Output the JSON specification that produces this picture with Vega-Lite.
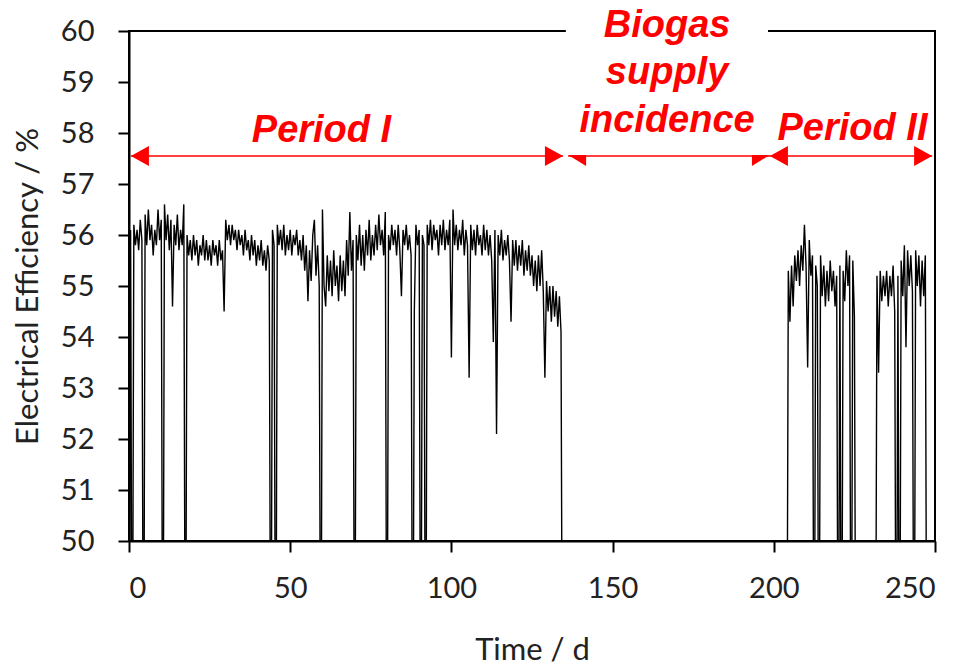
{
  "$schema": "https://vega.github.io/schema/vega-lite/v6.json",
  "width": 806,
  "height": 510,
  "autosize": {"type": "none"},
  "padding": {"left": 129, "top": 31, "right": 32, "bottom": 128},
  "background": "white",
  "config": {
    "view": {"stroke": "black", "strokeWidth": 2},
    "axis": {
      "grid": false,
      "domainColor": "black",
      "domainWidth": 2,
      "tickColor": "black",
      "tickWidth": 2,
      "tickSize": 11,
      "labelFont": "Lato",
      "labelFontSize": 29,
      "labelColor": "#222222",
      "titleFont": "Lato",
      "titleFontSize": 31,
      "titleFontWeight": "normal",
      "titleColor": "#222222"
    }
  },
  "datasets": {
    "eff": [
      {"t":0,"v":45},{"t":0.5,"v":56.1},{"t":1,"v":45},{"t":1.5,"v":56.2},{"t":2,"v":55.8},{"t":2.5,"v":56.1},{"t":3,"v":55.7},{"t":3.5,"v":56.3},{"t":4,"v":55.9},{"t":4.5,"v":45},
      {"t":5,"v":56.4},{"t":5.5,"v":55.8},{"t":6,"v":56.5},{"t":6.5,"v":55.9},{"t":7,"v":56.2},{"t":7.5,"v":55.6},{"t":8,"v":56.1},{"t":8.5,"v":55.8},{"t":9,"v":56.5},{"t":9.5,"v":55.9},
      {"t":10,"v":56.3},{"t":10.5,"v":45},{"t":11,"v":56.6},{"t":11.5,"v":55.9},{"t":12,"v":56.4},{"t":12.5,"v":55.7},{"t":13,"v":56.3},{"t":13.5,"v":54.6},{"t":14,"v":56.2},{"t":14.5,"v":55.8},
      {"t":15,"v":56.4},{"t":15.5,"v":55.7},{"t":16,"v":56.1},{"t":16.5,"v":55.8},{"t":17,"v":56.6},{"t":17.5,"v":45},{"t":18,"v":56.0},{"t":18.5,"v":55.6},{"t":19,"v":55.9},{"t":19.5,"v":55.5},
      {"t":20,"v":56.0},{"t":20.5,"v":55.6},{"t":21,"v":55.9},{"t":21.5,"v":55.4},{"t":22,"v":55.8},{"t":22.5,"v":55.6},{"t":23,"v":56.0},{"t":23.5,"v":55.5},{"t":24,"v":55.9},{"t":24.5,"v":55.5},
      {"t":25,"v":55.8},{"t":25.5,"v":55.4},{"t":26,"v":55.9},{"t":26.5,"v":55.6},{"t":27,"v":55.8},{"t":27.5,"v":55.4},{"t":28,"v":55.9},{"t":28.5,"v":55.5},{"t":29,"v":55.7},{"t":29.5,"v":54.5},
      {"t":30,"v":56.3},{"t":30.5,"v":55.9},{"t":31,"v":56.2},{"t":31.5,"v":55.8},{"t":32,"v":56.2},{"t":32.5,"v":55.9},{"t":33,"v":56.1},{"t":33.5,"v":55.7},{"t":34,"v":56.1},{"t":34.5,"v":55.8},
      {"t":35,"v":56.0},{"t":35.5,"v":55.6},{"t":36,"v":56.1},{"t":36.5,"v":55.7},{"t":37,"v":55.9},{"t":37.5,"v":55.5},{"t":38,"v":56.0},{"t":38.5,"v":55.6},{"t":39,"v":55.9},{"t":39.5,"v":55.4},
      {"t":40,"v":55.8},{"t":40.5,"v":55.5},{"t":41,"v":55.9},{"t":41.5,"v":55.4},{"t":42,"v":55.7},{"t":42.5,"v":55.3},{"t":43,"v":55.8},{"t":43.5,"v":55.5},{"t":44,"v":45},{"t":44.5,"v":56.1},
      {"t":45,"v":55.8},{"t":45.5,"v":45},{"t":46,"v":56.2},{"t":46.5,"v":55.8},{"t":47,"v":56.1},{"t":47.5,"v":55.7},{"t":48,"v":56.2},{"t":48.5,"v":55.6},{"t":49,"v":56.0},{"t":49.5,"v":55.7},
      {"t":50,"v":56.1},{"t":50.5,"v":55.6},{"t":51,"v":56.0},{"t":51.5,"v":55.8},{"t":52,"v":56.1},{"t":52.5,"v":55.6},{"t":53,"v":55.9},{"t":53.5,"v":55.5},{"t":54,"v":56.0},{"t":54.5,"v":55.3},
      {"t":55,"v":55.8},{"t":55.5,"v":54.7},{"t":56,"v":55.7},{"t":56.5,"v":55.1},{"t":57,"v":56.0},{"t":57.5,"v":56.3},{"t":58,"v":55.2},{"t":58.5,"v":55.8},{"t":59,"v":55.0},{"t":59.5,"v":45},
      {"t":60,"v":56.5},{"t":60.5,"v":55.0},{"t":61,"v":54.6},{"t":61.5,"v":55.6},{"t":62,"v":54.9},{"t":62.5,"v":55.5},{"t":63,"v":54.8},{"t":63.5,"v":55.7},{"t":64,"v":55.0},{"t":64.5,"v":55.4},
      {"t":65,"v":54.7},{"t":65.5,"v":55.6},{"t":66,"v":54.9},{"t":66.5,"v":55.5},{"t":67,"v":54.8},{"t":67.5,"v":55.9},{"t":68,"v":55.2},{"t":68.5,"v":56.45},{"t":69,"v":55.3},{"t":69.5,"v":55.9},
      {"t":70,"v":45},{"t":70.5,"v":56.0},{"t":71,"v":55.5},{"t":71.5,"v":56.2},{"t":72,"v":55.4},{"t":72.5,"v":56.0},{"t":73,"v":55.3},{"t":73.5,"v":56.1},{"t":74,"v":55.6},{"t":74.5,"v":56.3},
      {"t":75,"v":55.5},{"t":75.5,"v":56.0},{"t":76,"v":55.6},{"t":76.5,"v":56.2},{"t":77,"v":55.7},{"t":77.5,"v":56.4},{"t":78,"v":55.8},{"t":78.5,"v":56.1},{"t":79,"v":55.6},{"t":79.5,"v":56.45},
      {"t":80,"v":45},{"t":80.5,"v":56.0},{"t":81,"v":55.7},{"t":81.5,"v":56.2},{"t":82,"v":55.8},{"t":82.5,"v":56.1},{"t":83,"v":55.6},{"t":83.5,"v":56.2},{"t":84,"v":55.7},{"t":84.5,"v":54.8},
      {"t":85,"v":56.1},{"t":85.5,"v":55.8},{"t":86,"v":56.2},{"t":86.5,"v":55.7},{"t":87,"v":56.0},{"t":87.5,"v":55.6},{"t":88,"v":45},{"t":88.5,"v":54.5},{"t":89,"v":56.2},{"t":89.5,"v":55.8},
      {"t":90,"v":56.1},{"t":90.5,"v":45},{"t":91,"v":56.0},{"t":91.5,"v":55.8},{"t":92,"v":45},{"t":92.5,"v":56.2},{"t":93,"v":55.8},{"t":93.5,"v":56.3},{"t":94,"v":55.7},{"t":94.5,"v":56.2},
      {"t":95,"v":55.9},{"t":95.5,"v":56.1},{"t":96,"v":55.6},{"t":96.5,"v":56.2},{"t":97,"v":55.8},{"t":97.5,"v":56.3},{"t":98,"v":55.7},{"t":98.5,"v":56.1},{"t":99,"v":55.8},{"t":99.5,"v":56.3},
      {"t":100,"v":53.6},{"t":100.5,"v":56.5},{"t":101,"v":55.8},{"t":101.5,"v":56.2},{"t":102,"v":55.7},{"t":102.5,"v":56.1},{"t":103,"v":55.8},{"t":103.5,"v":56.3},{"t":104,"v":55.6},{"t":104.5,"v":56.1},
      {"t":105,"v":55.8},{"t":105.5,"v":53.2},{"t":106,"v":56.2},{"t":106.5,"v":55.7},{"t":107,"v":56.1},{"t":107.5,"v":55.6},{"t":108,"v":56.2},{"t":108.5,"v":55.8},{"t":109,"v":56.0},{"t":109.5,"v":55.6},
      {"t":110,"v":56.2},{"t":110.5,"v":55.7},{"t":111,"v":56.1},{"t":111.5,"v":55.6},{"t":112,"v":56.0},{"t":112.5,"v":55.5},{"t":113,"v":53.9},{"t":113.5,"v":56.1},{"t":114,"v":52.1},{"t":114.5,"v":56.0},
      {"t":115,"v":55.6},{"t":115.5,"v":56.1},{"t":116,"v":55.5},{"t":116.5,"v":55.9},{"t":117,"v":55.6},{"t":117.5,"v":56.0},{"t":118,"v":55.5},{"t":118.5,"v":54.3},{"t":119,"v":55.9},{"t":119.5,"v":55.4},
      {"t":120,"v":55.9},{"t":120.5,"v":55.3},{"t":121,"v":55.8},{"t":121.5,"v":55.4},{"t":122,"v":55.9},{"t":122.5,"v":55.2},{"t":123,"v":55.7},{"t":123.5,"v":55.3},{"t":124,"v":55.8},{"t":124.5,"v":55.2},
      {"t":125,"v":55.6},{"t":125.5,"v":55.0},{"t":126,"v":55.5},{"t":126.5,"v":54.9},{"t":127,"v":55.6},{"t":127.5,"v":55.0},{"t":128,"v":55.7},{"t":128.5,"v":54.9},{"t":129,"v":53.2},{"t":129.5,"v":55.1},
      {"t":130,"v":54.5},{"t":130.5,"v":55.0},{"t":131,"v":54.3},{"t":131.5,"v":55.0},{"t":132,"v":54.4},{"t":132.5,"v":54.9},{"t":133,"v":54.2},{"t":133.5,"v":54.8},{"t":134,"v":54.1},{"t":134.5,"v":45},
      {"t":204,"v":45},{"t":204.5,"v":55.3},{"t":205,"v":54.3},{"t":205.5,"v":55.4},{"t":206,"v":54.6},{"t":206.5,"v":55.6},{"t":207,"v":55.1},{"t":207.5,"v":55.7},{"t":208,"v":55.0},{"t":208.5,"v":55.8},
      {"t":209,"v":55.3},{"t":209.5,"v":56.2},{"t":210,"v":55.4},{"t":210.5,"v":53.4},{"t":211,"v":55.9},{"t":211.5,"v":55.2},{"t":212,"v":55.6},{"t":212.5,"v":45},{"t":213,"v":55.4},{"t":213.5,"v":55.0},
      {"t":214,"v":45},{"t":214.5,"v":55.6},{"t":215,"v":54.8},{"t":215.5,"v":55.4},{"t":216,"v":54.6},{"t":216.5,"v":55.3},{"t":217,"v":54.7},{"t":217.5,"v":55.5},{"t":218,"v":54.9},{"t":218.5,"v":55.3},
      {"t":219,"v":54.6},{"t":219.5,"v":55.2},{"t":220,"v":45},{"t":220.5,"v":55.4},{"t":221,"v":45},{"t":221.5,"v":55.3},{"t":222,"v":54.7},{"t":222.5,"v":55.7},{"t":223,"v":55.0},{"t":223.5,"v":55.6},
      {"t":224,"v":45},{"t":224.5,"v":55.5},{"t":225,"v":54.4},{"t":225.5,"v":45},
      {"t":231.5,"v":45},{"t":232,"v":55.2},{"t":232.5,"v":53.3},{"t":233,"v":55.3},{"t":233.5,"v":54.7},{"t":234,"v":55.2},{"t":234.5,"v":54.8},{"t":235,"v":55.3},{"t":235.5,"v":54.6},{"t":236,"v":55.2},
      {"t":236.5,"v":54.8},{"t":237,"v":55.4},{"t":237.5,"v":54.5},{"t":238,"v":45},{"t":238.5,"v":55.2},{"t":239,"v":45},{"t":239.5,"v":55.5},{"t":240,"v":54.8},{"t":240.5,"v":55.8},{"t":241,"v":53.8},
      {"t":241.5,"v":55.7},{"t":242,"v":55.0},{"t":242.5,"v":55.6},{"t":243,"v":54.9},{"t":243.5,"v":45},{"t":244,"v":55.7},{"t":244.5,"v":55.0},{"t":245,"v":55.6},{"t":245.5,"v":54.6},{"t":246,"v":55.5},
      {"t":246.5,"v":54.8},{"t":247,"v":55.6},{"t":247.5,"v":45}
    ],
    "arrows": [
      {"t1": 0.6, "t2": 134.6, "v": 57.55},
      {"t1": 136.2, "t2": 198.8, "v": 57.55},
      {"t1": 198.8, "t2": 249.1, "v": 57.55}
    ],
    "heads": [
      {"t": 0.6, "v": 57.55, "kind": "left"},
      {"t": 134.6, "v": 57.55, "kind": "right"},
      {"t": 136.2, "v": 57.55, "kind": "halfleft"},
      {"t": 198.8, "v": 57.55, "kind": "halfright"},
      {"t": 198.8, "v": 57.55, "kind": "left"},
      {"t": 249.1, "v": 57.55, "kind": "right"}
    ],
    "labels": [
      {"label": "Period I", "t": 59.7, "v": 57.82},
      {"label": "Period II", "t": 224.4, "v": 57.86},
      {"label": "Biogas", "t": 166.9, "v": 59.88},
      {"label": "supply", "t": 166.9, "v": 58.96},
      {"label": "incidence", "t": 166.9, "v": 58.02}
    ],
    "mask": [
      {"t1": 135.5, "t2": 198.2, "v1": 59.9, "v2": 60.15}
    ]
  },
  "layer": [
    {
      "data": {"name": "eff"},
      "mark": {"type": "line", "color": "black", "strokeWidth": 1.4, "clip": true},
      "encoding": {
        "x": {"field": "t", "type": "quantitative", "scale": {"domain": [0, 250], "nice": false},
          "axis": {"values": [0, 50, 100, 150, 200, 250], "title": "Time / d", "labelPadding": 22, "titlePadding": 32}},
        "y": {"field": "v", "type": "quantitative", "scale": {"domain": [50, 60], "nice": false, "zero": false},
          "axis": {"values": [50, 51, 52, 53, 54, 55, 56, 57, 58, 59, 60], "title": "Electrical Efficiency / %", "labelPadding": 24, "titlePadding": 16}}
      }
    },
    {
      "data": {"name": "mask"},
      "mark": {"type": "rect", "color": "white"},
      "encoding": {
        "x": {"field": "t1", "type": "quantitative"},
        "x2": {"field": "t2"},
        "y": {"field": "v1", "type": "quantitative"},
        "y2": {"field": "v2"}
      }
    },
    {
      "data": {"name": "arrows"},
      "mark": {"type": "rule", "color": "#FF0000", "strokeWidth": 1.6},
      "encoding": {
        "x": {"field": "t1", "type": "quantitative"},
        "x2": {"field": "t2"},
        "y": {"field": "v", "type": "quantitative"}
      }
    },
    {
      "data": {"name": "heads"},
      "mark": {"type": "point", "filled": true, "color": "#FF0000", "opacity": 1, "size": 400, "strokeWidth": 0},
      "encoding": {
        "x": {"field": "t", "type": "quantitative"},
        "y": {"field": "v", "type": "quantitative"},
        "shape": {"field": "kind", "type": "nominal", "legend": null,
          "scale": {"domain": ["left", "right", "halfleft", "halfright"],
            "range": ["M 0 0 L 1.8 -1 L 1.8 1 Z", "M 0 0 L -1.8 -1 L -1.8 1 Z", "M 0 -0.1 L 1.8 -0.1 L 1.8 1 Z", "M 0 -0.1 L -1.8 -0.1 L -1.8 1 Z"]}}
      }
    },
    {
      "data": {"name": "labels"},
      "mark": {"type": "text", "font": "Liberation Sans", "fontSize": 38, "fontWeight": "bold", "fontStyle": "italic", "color": "#FF0000", "align": "center", "baseline": "alphabetic"},
      "encoding": {
        "x": {"field": "t", "type": "quantitative"},
        "y": {"field": "v", "type": "quantitative"},
        "text": {"field": "label"}
      }
    }
  ]
}
